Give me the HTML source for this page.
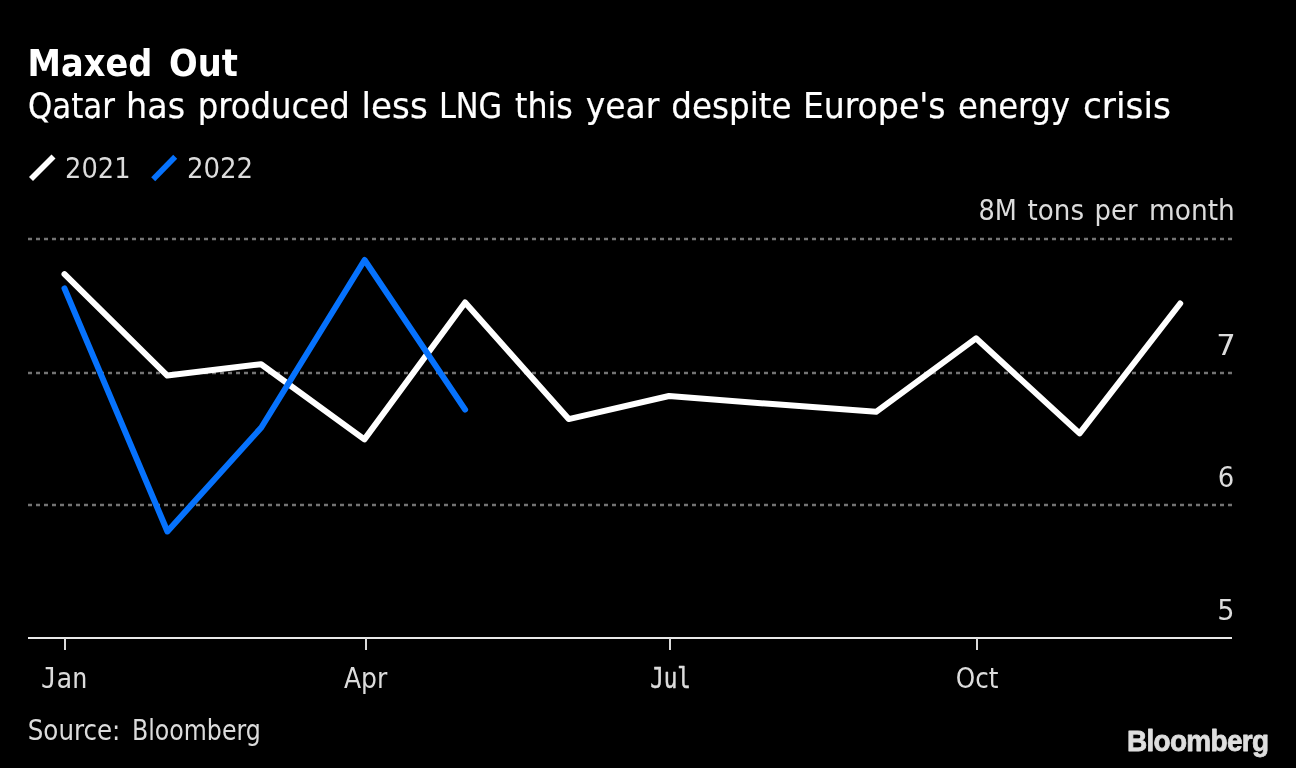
<!DOCTYPE html>
<html lang="en">
<head>
<meta charset="utf-8">
<title>Maxed Out</title>
<style>
html,body{margin:0;padding:0;background:#000;}
body{width:1296px;height:768px;overflow:hidden;}
svg{display:block;}
text{font-family:"DejaVu Sans Condensed","DejaVu Sans","Liberation Sans",sans-serif;font-stretch:condensed;}
.m{font-family:"DejaVu Sans Mono","Liberation Mono",monospace;font-stretch:normal;}
.logo{font-family:"Liberation Sans",sans-serif;font-stretch:normal;}
</style>
</head>
<body>
<svg width="1296" height="768" viewBox="0 0 1296 768">
<rect width="1296" height="768" fill="#000"/>
<g stroke="#747474" stroke-width="2.4" stroke-dasharray="4 4" fill="none">
<line x1="28" y1="239" x2="1232" y2="239"/>
<line x1="28" y1="373" x2="1232" y2="373"/>
<line x1="28" y1="505" x2="1232" y2="505"/>
</g>
<g stroke="#e8e8e8" stroke-width="2" fill="none">
<line x1="28" y1="638" x2="1232" y2="638"/>
<line x1="65" y1="638" x2="65" y2="650" stroke="#dadada"/>
<line x1="366" y1="638" x2="366" y2="650" stroke="#dadada"/>
<line x1="670" y1="638" x2="670" y2="650" stroke="#dadada"/>
<line x1="977" y1="638" x2="977" y2="650" stroke="#dadada"/>
</g>
<g stroke-width="5.6" fill="none">
<line x1="31" y1="179.1" x2="53.5" y2="156.6" stroke="#fff"/>
<line x1="153.2" y1="179.2" x2="175.2" y2="156.7" stroke="#0672fd"/>
</g>
<polyline points="64.5,274.2 167.3,375.6 261.1,364.2 364.4,439.4 465.1,302.5 568.7,419.1 669,396 772.5,404.1 876.1,411.8 976,338.3 1079.6,433.4 1180.2,303.5" stroke="#fff" stroke-width="6" fill="none" stroke-linecap="round" stroke-linejoin="round"/>
<polyline points="64.5,288.4 167.4,531.5 261.3,427.5 364.6,260 465.1,409.6" stroke="#0672fd" stroke-width="6" fill="none" stroke-linecap="round" stroke-linejoin="round"/>
<text y="76.1" font-size="37.5" fill="#fff" font-weight="bold"><tspan x="27.61" textLength="124.62" lengthAdjust="spacingAndGlyphs">Maxed</tspan> <tspan x="169.00" textLength="68.84" lengthAdjust="spacingAndGlyphs">Out</tspan></text>
<text y="117.6" font-size="36" fill="#fff" stroke="#fff" stroke-width="0.2" stroke-linejoin="round"><tspan x="28.05" textLength="86.88" lengthAdjust="spacingAndGlyphs">Qatar</tspan> <tspan x="126.14" textLength="58.86" lengthAdjust="spacingAndGlyphs">has</tspan> <tspan x="197.70" textLength="151.99" lengthAdjust="spacingAndGlyphs">produced</tspan> <tspan x="361.64" textLength="66.04" lengthAdjust="spacingAndGlyphs">less</tspan> <tspan x="438.88" textLength="63.34" lengthAdjust="spacingAndGlyphs">LNG</tspan> <tspan x="515.00" textLength="57.78" lengthAdjust="spacingAndGlyphs">this</tspan> <tspan x="585.68" textLength="73.55" lengthAdjust="spacingAndGlyphs">year</tspan> <tspan x="671.29" textLength="120.29" lengthAdjust="spacingAndGlyphs">despite</tspan> <tspan x="802.93" textLength="142.70" lengthAdjust="spacingAndGlyphs">Europe's</tspan> <tspan x="958.01" textLength="112.10" lengthAdjust="spacingAndGlyphs">energy</tspan> <tspan x="1082.94" textLength="87.99" lengthAdjust="spacingAndGlyphs">crisis</tspan></text>
<text y="177.9" font-size="27.5" fill="#dcdcdc"><tspan x="65.12" textLength="65.41" lengthAdjust="spacingAndGlyphs">2021</tspan></text>
<text y="177.9" font-size="27.5" fill="#dcdcdc"><tspan x="187.00" textLength="66.15" lengthAdjust="spacingAndGlyphs">2022</tspan></text>
<text y="219.8" font-size="29" fill="#dcdcdc"><tspan x="978.56" textLength="38.40" lengthAdjust="spacingAndGlyphs" font-size="27.5">8M</tspan> <tspan x="1027.60" textLength="56.43" lengthAdjust="spacingAndGlyphs">tons</tspan> <tspan x="1094.62" textLength="42.95" lengthAdjust="spacingAndGlyphs">per</tspan> <tspan x="1148.97" textLength="85.84" lengthAdjust="spacingAndGlyphs">month</tspan></text>
<text y="355" font-size="28" fill="#dcdcdc"><tspan x="1216.37" textLength="19.50" lengthAdjust="spacingAndGlyphs">7</tspan></text>
<text y="487.3" font-size="28" fill="#dcdcdc"><tspan x="1217.77" textLength="16.49" lengthAdjust="spacingAndGlyphs">6</tspan></text>
<text y="620.3" font-size="28" fill="#dcdcdc"><tspan x="1217.35" textLength="17.23" lengthAdjust="spacingAndGlyphs">5</tspan></text>
<text y="687.7" font-size="28.5" fill="#dcdcdc"><tspan class="m" x="40.99" textLength="46.66" lengthAdjust="spacingAndGlyphs">Jan</tspan></text>
<text y="687.7" font-size="28.5" fill="#dcdcdc"><tspan x="343.90" textLength="43.37" lengthAdjust="spacingAndGlyphs">Apr</tspan></text>
<text y="687.7" font-size="28.5" fill="#dcdcdc"><tspan class="m" x="650.21" textLength="40.76" lengthAdjust="spacingAndGlyphs" stroke="#dcdcdc" stroke-width="0.5" stroke-linejoin="round">Jul</tspan></text>
<text y="687.7" font-size="28.5" fill="#dcdcdc"><tspan x="955.74" textLength="42.68" lengthAdjust="spacingAndGlyphs">Oct</tspan></text>
<text y="739.7" font-size="28" fill="#dcdcdc"><tspan x="27.77" textLength="92.61" lengthAdjust="spacingAndGlyphs">Source:</tspan> <tspan x="132.02" textLength="128.76" lengthAdjust="spacingAndGlyphs">Bloomberg</tspan></text>
<text y="750.8" font-size="29.5" fill="#dedede" font-weight="bold" class="logo" stroke="#dedede" stroke-width="0.8" stroke-linejoin="round"><tspan x="1126.95" textLength="141.53" lengthAdjust="spacingAndGlyphs" letter-spacing="-0.7">Bloomberg</tspan></text>
</svg>
</body>
</html>
